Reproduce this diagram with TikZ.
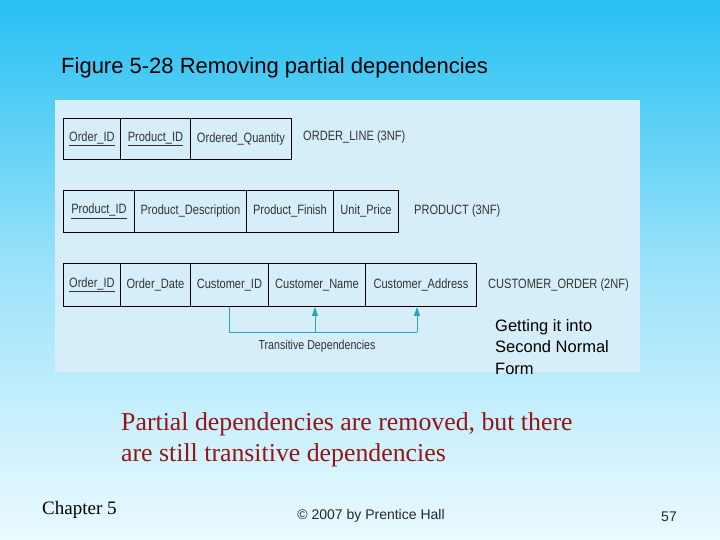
\documentclass[tikz,border=0pt]{standalone}
\usepackage{fontspec}
\setmainfont{Liberation Serif}
\newfontfamily\arial{Liberation Sans}
\newfontfamily\narrow[FakeStretch=0.82]{Liberation Sans}
\usetikzlibrary{arrows.meta}
\definecolor{bgtop}{RGB}{38,192,242}
\definecolor{bgbot}{RGB}{235,250,255}
\definecolor{panel}{RGB}{214,238,250}
\definecolor{teal}{RGB}{40,165,190}
\definecolor{dred}{RGB}{150,20,20}
\tikzset{
 cell/.style={draw=black,line width=0.9pt,minimum height=41pt,inner sep=0pt,anchor=north west,font=\narrow\fontsize{13.5}{15}\selectfont,text=black!80},
 tlabel/.style={anchor=west,font=\narrow\fontsize{13.5}{15}\selectfont,text=black!80,inner sep=0pt},
 dep/.style={teal,line width=1pt}
}
\newcommand{\ul}[1]{\underline{#1}}
\begin{document}
\begin{tikzpicture}[x=1pt,y=-1pt]
\useasboundingbox (0,0) rectangle (720,540);
\shade[top color=bgtop,bottom color=bgbot,middle color=bgbot!60!bgtop] (0,0) rectangle (720,540);
\fill[panel] (55,100) rectangle (640,372);
\node[anchor=west,font=\arial\fontsize{22}{26}\selectfont,inner sep=0pt] (title) at (61,68) {Figure 5-28 Removing partial dependencies};
% table 1
\node[cell,minimum width=57pt] (a1) at (63,118) {\ul{Order\_ID}};
\node[cell,minimum width=70pt] (a2) at (120,118) {\ul{Product\_ID}};
\node[cell,minimum width=101pt] (a3) at (190,118) {Ordered\_Quantity};
\node[tlabel] (t1) at (303,137) {ORDER\_LINE (3NF)};
% table 2
\node[cell,minimum width=71pt,minimum height=42pt] (b1) at (63,190) {\ul{Product\_ID}};
\node[cell,minimum width=112pt,minimum height=42pt] (b2) at (134,190) {Product\_Description};
\node[cell,minimum width=87pt,minimum height=42pt] (b3) at (246,190) {Product\_Finish};
\node[cell,minimum width=65pt,minimum height=42pt] (b4) at (333,190) {Unit\_Price};
\node[tlabel] (t2) at (414,211) {PRODUCT (3NF)};
% table 3
\node[cell,minimum width=57pt,minimum height=43pt] (c1) at (63,263) {\ul{Order\_ID}};
\node[cell,minimum width=70pt,minimum height=43pt] (c2) at (120,263) {Order\_Date};
\node[cell,minimum width=78pt,minimum height=43pt] (c3) at (190,263) {Customer\_ID};
\node[cell,minimum width=97pt,minimum height=43pt] (c4) at (268,263) {Customer\_Name};
\node[cell,minimum width=111pt,minimum height=43pt] (c5) at (365,263) {Customer\_Address};
\node[tlabel] (t3) at (488,285) {CUSTOMER\_ORDER (2NF)};
% dependencies
\coordinate (q1) at (229,332);
\coordinate (q2) at (315,332);
\coordinate (q3) at (417,332);
\draw[dep] (c3.south -| q1) -- (q1) -- (q3);
\draw[dep,-{Triangle[length=9pt,width=6pt]}] (q2) -- (q2 |- c4.south);
\draw[dep,-{Triangle[length=9pt,width=6pt]}] (q3) -- (q3 |- c5.south);
\node[font=\narrow\fontsize{13}{14}\selectfont,text=black!80] (td) at (317,346) {Transitive Dependencies};
\node[anchor=north west,align=left,font=\arial\fontsize{16.5}{21.5}\selectfont,inner sep=0pt] (g) at (495,319) {Getting it into\\Second Normal\\Form};
\node[anchor=north west,align=left,font=\fontsize{25.8}{31}\selectfont,text=dred,inner sep=0pt] (p) at (121,412) {Partial dependencies are removed, but there\\are still transitive dependencies};
\node[anchor=west,font=\fontsize{19}{22}\selectfont,inner sep=0pt] (ch) at (42,510) {Chapter 5};
\node[font=\arial\fontsize{14}{16}\selectfont,text=black!85] (cp) at (371,516) {\textcopyright\ 2007 by Prentice Hall};
\node[font=\arial\fontsize{14}{16}\selectfont,text=black!85] (pg) at (669,517) {57};
\end{tikzpicture}
\end{document}
